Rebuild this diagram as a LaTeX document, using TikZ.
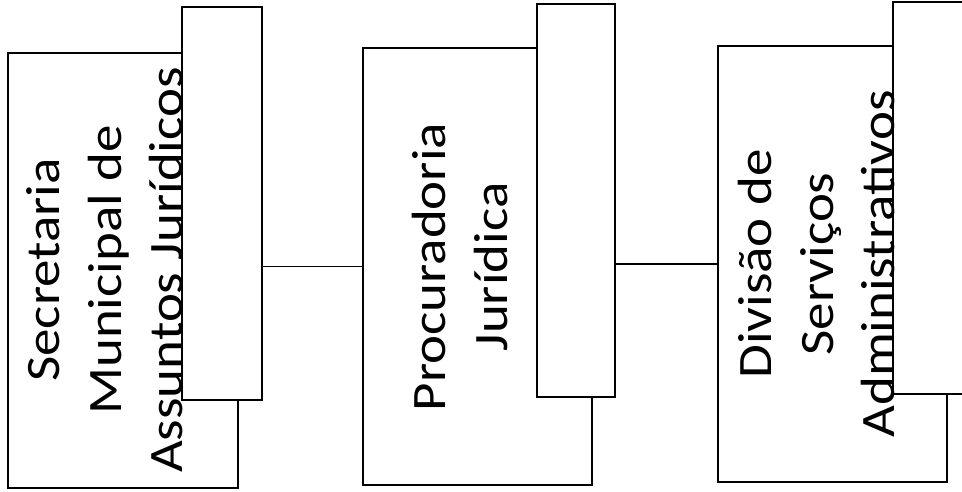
\documentclass[tikz,border=0pt]{standalone}
\usepackage{fontspec}
\setmainfont{Carlito}[FakeStretch=1.145]
\begin{document}
\begin{tikzpicture}[x=1pt,y=-1pt,
  mainbox/.style={draw=black,fill=white,line width=2pt,minimum width=#1,inner sep=0pt},
  overbox/.style={draw=black,fill=white,line width=2pt,inner sep=0pt},
  label/.style={rotate=90,align=center,inner sep=0pt,font=\fontsize{48}{61.5}\selectfont},
  link/.style={draw=black,line width=1.8pt}]
\useasboundingbox (0,0) rectangle (962,491);
% main boxes
\node[mainbox=230pt,minimum height=435pt] (m1) at (123,270.5) {};
\node[mainbox=229pt,minimum height=437pt] (m2) at (477.5,266.5) {};
\node[mainbox=229pt,minimum height=436pt] (m3) at (832.5,264) {};
% overlay boxes
\node[overbox,minimum width=80pt,minimum height=393pt] (o1) at (222,203.5) {};
\node[overbox,minimum width=78pt,minimum height=393pt] (o2) at (576,200.5) {};
\node[overbox,minimum width=90pt,minimum height=392pt] (o3) at (938,198) {};
% texts
\node[label] (t1) at (105,270) {Secretaria\\Municipal de\\Assuntos Jurídicos};
\node[label] (t2) at (460,267) {Procuradoria\\Jurídica};
\node[label] (t3) at (817,264) {Divisão de\\Serviços\\Administrativos};
% connectors
\draw[link] (m2.west) -- (m2.west -| o1.east);
\draw[link] (m3.west) -- (m3.west -| o2.east);
\end{tikzpicture}
\end{document}
